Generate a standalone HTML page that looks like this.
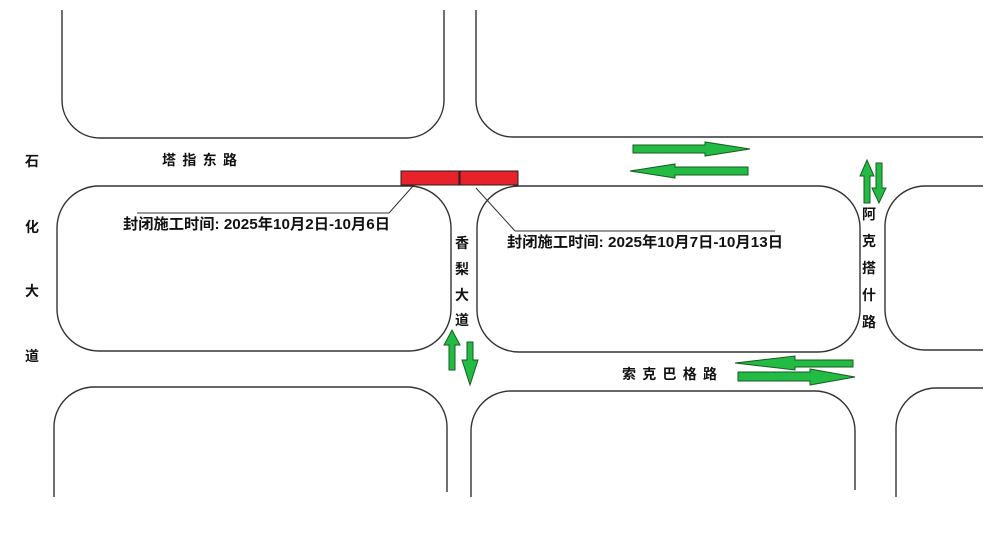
<!DOCTYPE html>
<html><head><meta charset="utf-8"><style>
body{margin:0;background:#fff}
svg{display:block}
text{font-family:"Liberation Sans","Noto Sans CJK SC",sans-serif;font-weight:bold;fill:#111}
</style></head><body>
<svg width="1001" height="551" viewBox="0 0 1001 551" xmlns="http://www.w3.org/2000/svg">
<g fill="none" stroke="#333" stroke-width="1.4">
<path d="M62 10 V100 A38 38 0 0 0 100 138 H406 A38 38 0 0 0 444 100 V10"/>
<path d="M476 10 V100 A37 37 0 0 0 513 137 H983"/>
<rect x="57" y="186" width="394" height="165" rx="42"/>
<rect x="477" y="186" width="383" height="166" rx="42"/>
<path d="M983 186 H925 A40 40 0 0 0 885 226 V310 A40 40 0 0 0 925 350 H983"/>
<path d="M54 497 V427 A40 40 0 0 1 94 387 H407 A40 40 0 0 1 447 427 V492"/>
<path d="M471 497 V431 A40 40 0 0 1 511 391 H815 A40 40 0 0 1 855 431 V490"/>
<path d="M983 388 H936 A40 40 0 0 0 896 428 V497"/>
<line x1="137" y1="213" x2="389" y2="213" stroke-width="1"/>
<line x1="389" y1="213" x2="413" y2="186" stroke-width="1"/>
<line x1="515" y1="231" x2="775" y2="231" stroke-width="1"/>
<line x1="515" y1="231" x2="476" y2="188" stroke-width="1"/>
</g>
<rect x="401" y="171" width="58" height="14" fill="#e8222a" stroke="#222" stroke-width="1"/>
<rect x="460" y="171" width="58" height="14" fill="#e8222a" stroke="#222" stroke-width="1"/>
<g fill="#22bb44" stroke="#1a5a20" stroke-width="1">
<polygon points="633,145 705,145 705,142 750,149 705,156 705,153 633,153"/>
<polygon points="748,167 675,167 675,164 630,171 675,178 675,175 748,175"/>
<polygon points="449,370 449,345 444,345 452,330 460,345 455,345 455,370"/>
<polygon points="467,342 473,342 473,360 478,360 470,385 462,360 467,360"/>
<polygon points="864,203 864,176 860,176 867,160 874,176 870,176 870,203"/>
<polygon points="876,163 882,163 882,188 886,188 879,203 872,188 876,188"/>
<polygon points="853,360 795,360 795,356 735,363 795,370 795,367 853,367"/>
<polygon points="738,372 810,372 810,369 855,377 810,385 810,381 738,381"/>
</g>
<g font-size="14">
<text x="162" y="165" textLength="75" lengthAdjust="spacing">塔指东路</text>
<text x="25" y="166">石</text>
<text x="25" y="232">化</text>
<text x="25" y="296">大</text>
<text x="25" y="361">道</text>
<text x="622" y="379" textLength="95" lengthAdjust="spacing">索克巴格路</text>
<text x="455" y="248">香</text>
<text x="455" y="274">梨</text>
<text x="455" y="300">大</text>
<text x="455" y="325">道</text>
<text x="862" y="219">阿</text>
<text x="862" y="246">克</text>
<text x="862" y="273">搭</text>
<text x="862" y="300">什</text>
<text x="862" y="327">路</text>
</g>
<g font-size="15">
<text x="123" y="229" textLength="267" lengthAdjust="spacingAndGlyphs">封闭施工时间: 2025年10月2日-10月6日</text>
<text x="507" y="247" textLength="276" lengthAdjust="spacingAndGlyphs">封闭施工时间: 2025年10月7日-10月13日</text>
</g>
</svg>
</body></html>
